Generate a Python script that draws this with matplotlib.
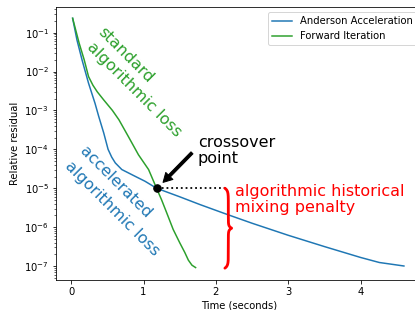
import numpy as np
import matplotlib
matplotlib.use("Agg")
import matplotlib.pyplot as plt
from matplotlib.ticker import LogLocator, NullFormatter

# ---- data ----
aa_time = [0.02, 0.08, 0.15, 0.24, 0.33, 0.38, 0.45, 0.51, 0.56, 0.61, 0.70, 0.88, 1.02,
           1.18, 1.50, 1.78, 2.15, 2.50, 3.00, 3.50, 4.00, 4.26, 4.45, 4.60]
aa_log = [-0.63, -1.19, -1.70, -2.30, -2.82, -3.15, -3.58, -4.00, -4.20, -4.35, -4.52, -4.69, -4.82,
          -5.00, -5.22, -5.42, -5.67, -5.90, -6.21, -6.50, -6.78, -6.91, -6.96, -7.00]
fi_time = [0.02, 0.11, 0.18, 0.24, 0.30, 0.36, 0.45, 0.57, 0.66, 0.79, 0.93, 1.07,
           1.18, 1.25, 1.32, 1.41, 1.50, 1.57, 1.62, 1.67, 1.72]
fi_log = [-0.63, -1.27, -1.70, -2.13, -2.35, -2.52, -2.73, -3.00, -3.24, -3.67, -4.14, -4.52,
          -5.00, -5.30, -5.63, -6.06, -6.40, -6.65, -6.85, -6.98, -7.04]
aa_res = [10 ** v for v in aa_log]
fi_res = [10 ** v for v in fi_log]

labels = ["Anderson Acceleration", "Forward Iteration"]
cross_t, cross_r = 1.18, 1e-5
dotted_end = 2.15
brace_x = 2.125
brace_top, brace_bottom = 1e-5, 8.8e-8

BLUE = "#1f77b4"
GREEN = "#2ca02c"

dpi = 72
fig = plt.figure(figsize=(415 / dpi, 310 / dpi), dpi=dpi)
ax = fig.add_axes([56 / 415, 30 / 310, 366 / 415, 273 / 310])

ax.plot(aa_time, aa_res, color=BLUE, lw=1.5, label=labels[0])
ax.plot(fi_time, fi_res, color=GREEN, lw=1.5, label=labels[1])
ax.set_yscale("log")
ax.set_xlim(-0.21, 4.85)
ax.set_ylim(10 ** -7.36, 10 ** -0.34)
ax.set_xticks([0, 1, 2, 3, 4])
ax.yaxis.set_minor_locator(LogLocator(base=10, subs=np.arange(2, 10), numticks=100))
ax.yaxis.set_minor_formatter(NullFormatter())
ax.set_xlabel("Time (seconds)", labelpad=4)
ax.set_ylabel("Relative residual")
ax.legend(loc="upper right")

# crossover point + dotted line
ax.plot([cross_t, dotted_end], [cross_r, cross_r], color="black", ls=":", lw=1.8)
ax.plot([cross_t], [cross_r], "o", color="black", ms=7.5, zorder=5)

# arrow to crossover
ax.annotate("", xy=(1.27, 10 ** -4.85), xytext=(1.67, 10 ** -4.09),
            arrowprops=dict(facecolor="black", edgecolor="black", width=2.8,
                            headwidth=10, headlength=9, shrink=0))

FS = 16
ax.text(1.75, 10 ** -4.03, "crossover\npoint", fontsize=FS, color="black",
        ha="left", va="center", linespacing=1.05)

# rotated labels (one per line)
def rot_line(x, ly, s, color):
    ax.text(x, 10 ** ly, s, fontsize=FS, color=color, rotation=-45,
            rotation_mode="anchor", ha="left", va="center")

rot_line(0.40, -0.92, "standard", GREEN)
rot_line(0.25, -1.31, "algorithmic loss", GREEN)
rot_line(0.15, -3.98, "accelerated", BLUE)
rot_line(-0.05, -4.37, "algorithmic loss", BLUE)

# red curly brace
u = np.linspace(0, 1, 400)
d = np.minimum(u, 1 - u)
h = 0.5 * (1 - np.exp(-d / 0.03)) + 0.5 * np.exp(-(0.5 - d) / 0.02)
lt, lb = np.log10(brace_top), np.log10(brace_bottom)
bx = brace_x + 0.095 * h
by = 10 ** (lt + (lb - lt) * u)
ax.plot(bx, by, color="red", lw=2.8, solid_capstyle="round")

ax.text(2.26, 10 ** -5.29, "algorithmic historical\nmixing penalty", fontsize=FS,
        color="red", ha="left", va="center", linespacing=1.05)

fig.savefig("out.png", dpi=dpi)
